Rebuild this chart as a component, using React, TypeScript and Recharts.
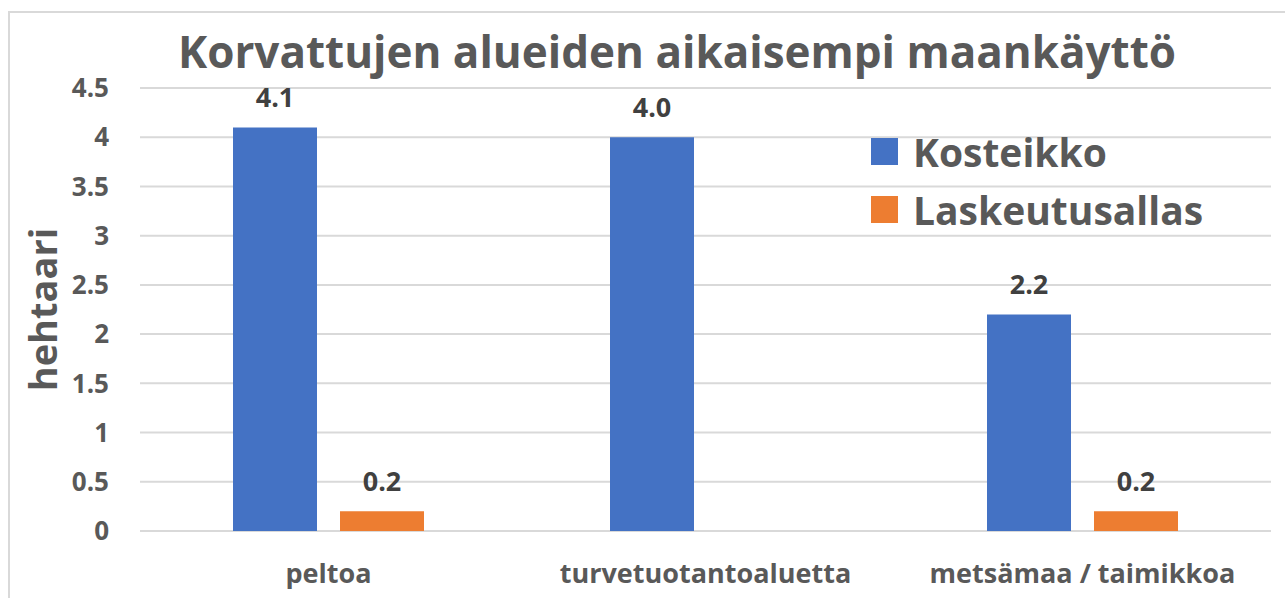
import React from 'react';
import { BarChart, Bar, XAxis, YAxis, CartesianGrid, Legend, LabelList } from 'recharts';

const categories = ['peltoa', 'turvetuotantoaluetta', 'metsämaa / taimikkoa'];
const kosteikko = [4.1, 4.0, 2.2];
const laskeutusallas: (number | null)[] = [0.2, null, 0.2];
const yTicks = [0, 0.5, 1, 1.5, 2, 2.5, 3, 3.5, 4, 4.5];

const data = categories.map((name, i) => ({
  name,
  kosteikko: kosteikko[i],
  laskeutusallas: laskeutusallas[i],
}));

const FONT = '"Open Sans", sans-serif';
const GREY = '#595959';

const renderLegend = ({ payload }: any) => (
  <div>
    {(payload || []).map((entry: any) => (
      <div key={entry.value} style={{ display: 'flex', alignItems: 'center', height: 58 }}>
        <span style={{ width: 27, height: 27, background: entry.color, marginRight: 15, flex: 'none' }} />
        <span style={{ fontFamily: FONT, fontWeight: 700, fontSize: 39, color: GREY, lineHeight: 1, whiteSpace: 'nowrap' }}>
          {entry.value}
        </span>
      </div>
    ))}
  </div>
);

const fmt = (v: any) => (v == null ? '' : Number(v).toFixed(1));

export default function App() {
  return (
    <div style={{ position: 'absolute', left: 0, top: 0, width: 1285, height: 598, overflow: 'hidden', background: '#fff' }}>
      <div style={{ position: 'absolute', left: 8, top: 11, width: 1300, height: 620, borderLeft: '2px solid #D9D9D9', borderTop: '2px solid #D9D9D9' }} />
      <div
        style={{
          position: 'absolute', left: 0, width: 1354, top: 29, textAlign: 'center',
          fontFamily: FONT, fontWeight: 700, fontSize: 44, lineHeight: '44px', color: GREY, whiteSpace: 'nowrap',
        }}
      >
        Korvattujen alueiden aikaisempi maankäyttö
      </div>
      <BarChart
        width={1285}
        height={598}
        data={data}
        margin={{ top: 88, right: 14, left: 0, bottom: 0 }}
        barSize={84}
        barGap={23}
        style={{ position: 'absolute', left: 0, top: 0 }}
      >
        <CartesianGrid vertical={false} stroke="#D9D9D9" strokeWidth={2} />
        <XAxis
          dataKey="name"
          height={67}
          axisLine={false}
          tickLine={false}
          tickSize={0}
          tickMargin={33}
          tick={{ fontFamily: FONT, fontWeight: 700, fontSize: 27, fill: GREY }}
        />
        <YAxis
          width={140}
          domain={[0, 4.5]}
          ticks={yTicks}
          axisLine={false}
          tickLine={false}
          tickSize={0}
          tickMargin={31}
          tick={{ fontFamily: FONT, fontWeight: 700, fontSize: 26, fill: GREY }}
          label={{
            value: 'hehtaari', angle: -90, position: 'center', dx: -26,
            style: { fontFamily: FONT, fontWeight: 700, fontSize: 38, fill: GREY },
          }}
        />
        <Legend
          layout="vertical"
          align="center"
          verticalAlign="middle"
          content={renderLegend}
          wrapperStyle={{ left: 871, top: 122, width: 400 }}
        />
        <Bar dataKey="kosteikko" name="Kosteikko" fill="#4472C4" isAnimationActive={false}>
          <LabelList
            dataKey="kosteikko"
            position="top"
            offset={20}
            formatter={fmt}
            style={{ fontFamily: FONT, fontWeight: 700, fontSize: 27, fill: '#404040' }}
          />
        </Bar>
        <Bar dataKey="laskeutusallas" name="Laskeutusallas" fill="#ED7D31" isAnimationActive={false}>
          <LabelList
            dataKey="laskeutusallas"
            position="top"
            offset={20}
            formatter={fmt}
            style={{ fontFamily: FONT, fontWeight: 700, fontSize: 27, fill: '#404040' }}
          />
        </Bar>
      </BarChart>
    </div>
  );
}
